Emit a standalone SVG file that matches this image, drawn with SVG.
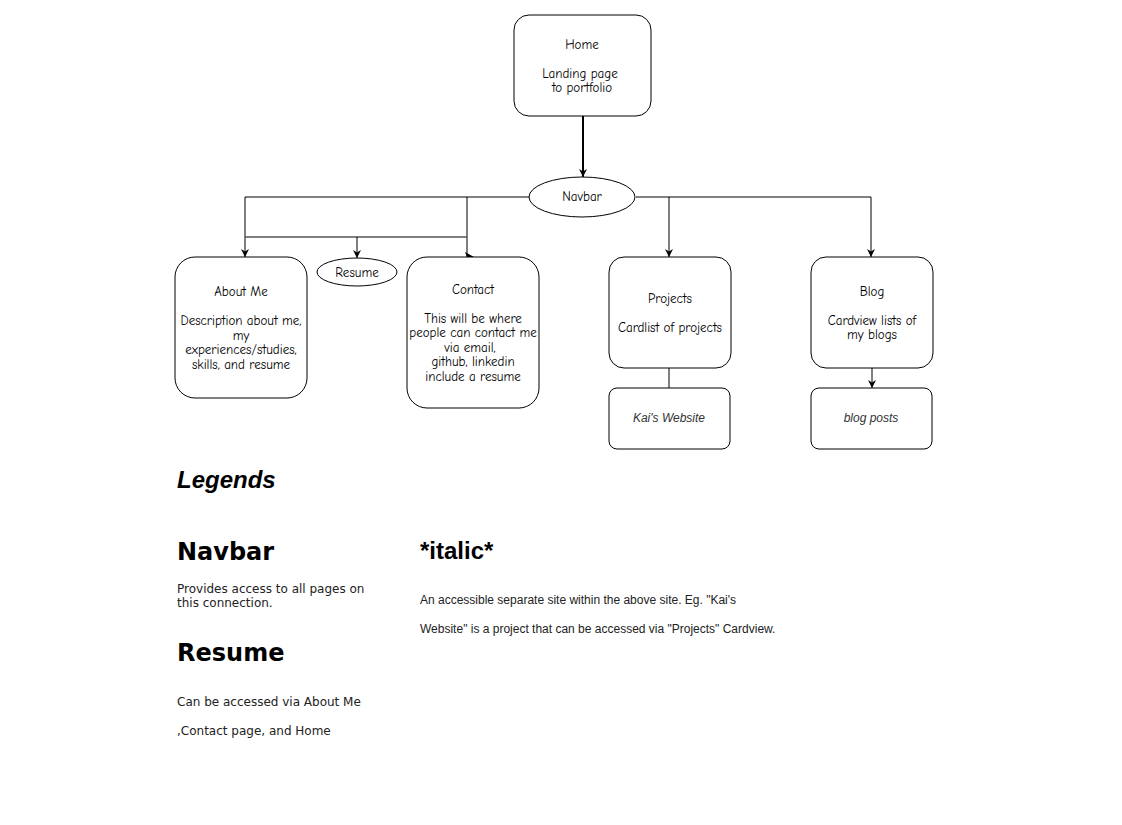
<svg xmlns="http://www.w3.org/2000/svg" width="1122" height="825" viewBox="0 0 1122 825">
<defs>
<style>
.box{fill:#fff;stroke:#000;stroke-width:1}
.nt{font-family:"Comic Sans MS","Comic Neue","Open Sans",sans-serif;font-size:13px;fill:#000;text-anchor:middle}
.it{font-family:"Liberation Sans",Arial,sans-serif;font-size:12px;font-style:italic;fill:#333;text-anchor:middle}
.ln{fill:none;stroke:#000;stroke-width:1}
.h{font-family:"DejaVu Sans",Verdana,sans-serif;font-size:24px;font-weight:bold;fill:#000}
.b{font-family:"DejaVu Sans",Verdana,sans-serif;font-size:12px;fill:#222}
.a{font-family:"Liberation Sans",Arial,sans-serif;font-size:12px;fill:#222}
</style>
<marker id="arr" viewBox="0 0 10 10" refX="10" refY="5" markerWidth="8" markerHeight="8" markerUnits="userSpaceOnUse" orient="auto">
<path d="M0,0 L10,5 L0,10 L3,5 Z" fill="#000"/>
</marker>
</defs>
<rect width="1122" height="825" fill="#fff"/>
<g id="connectors">
<path class="ln" d="M583,116 V177" marker-end="url(#arr)" style="stroke-width:2"/>
<path class="ln" d="M529,197 H245 V257" marker-end="url(#arr)"/>
<path class="ln" d="M467,197 V257"/>
<path d="M465,252 L474,257 L465,262 L467,257 Z" fill="#000"/>
<path class="ln" d="M245,237 H467" style="stroke:#555;stroke-width:1.5"/>
<path class="ln" d="M357,237 V258" marker-end="url(#arr)"/>
<path class="ln" d="M636,197 H871 V257" marker-end="url(#arr)"/>
<path class="ln" d="M669,197 V257" marker-end="url(#arr)"/>
<path class="ln" d="M669,368 V388"/>
<path class="ln" d="M872,368 V388" marker-end="url(#arr)"/>
</g>
<g id="home">
<rect class="box" x="514" y="15" width="137" height="101" rx="15"/>
<text class="nt" x="582" y="49">Home</text>
<text class="nt" x="580" y="78">Landing page</text>
<text class="nt" x="582" y="92">to portfolio</text>
</g>
<g id="navbar">
<ellipse class="box" cx="582" cy="197" rx="53" ry="20"/>
<text class="nt" x="582" y="201">Navbar</text>
</g>
<g id="about">
<rect class="box" x="175" y="257" width="132" height="141" rx="20"/>
<text class="nt" x="241" y="296">About Me</text>
<text class="nt" x="241" y="325">Description about me,</text>
<text class="nt" x="241" y="340">my</text>
<text class="nt" x="241" y="354">experiences/studies,</text>
<text class="nt" x="241" y="369">skills, and resume</text>
</g>
<g id="resume">
<ellipse class="box" cx="357" cy="272" rx="40" ry="14"/>
<text class="nt" x="357" y="277">Resume</text>
</g>
<g id="contact">
<rect class="box" x="407" y="257" width="132" height="151" rx="20"/>
<text class="nt" x="473" y="294">Contact</text>
<text class="nt" x="473" y="323">This will be where</text>
<text class="nt" x="473" y="337">people can contact me</text>
<text class="nt" x="470" y="352">via email,</text>
<text class="nt" x="473" y="366">github, linkedin</text>
<text class="nt" x="473" y="381">include a resume</text>
</g>
<g id="projects">
<rect class="box" x="609" y="257" width="122" height="111" rx="15"/>
<text class="nt" x="670" y="303">Projects</text>
<text class="nt" x="670" y="332">Cardlist of projects</text>
</g>
<g id="blog">
<rect class="box" x="811" y="257" width="122" height="111" rx="15"/>
<text class="nt" x="872" y="296">Blog</text>
<text class="nt" x="872" y="325">Cardview lists of</text>
<text class="nt" x="872" y="339">my blogs</text>
</g>
<g id="kais-website">
<rect class="box" x="609" y="388" width="121" height="61" rx="8"/>
<text class="it" x="669" y="422">Kai's Website</text>
</g>
<g id="blog-posts">
<rect class="box" x="811" y="388" width="121" height="61" rx="8"/>
<text class="it" x="871" y="422">blog posts</text>
</g>
<g id="legend">
<text x="177" y="488" style="font-family:'Liberation Sans',Arial,sans-serif;font-size:24px;font-weight:bold;font-style:italic">Legends</text>
<text class="h" x="177" y="560">Navbar</text>
<text class="b" x="177" y="593">Provides access to all pages on</text>
<text class="b" x="177" y="607">this connection.</text>
<text class="h" x="177" y="661">Resume</text>
<text class="b" x="177" y="706">Can be accessed via About Me</text>
<text class="b" x="177" y="735">,Contact page, and Home</text>
<text x="420" y="559" style="font-family:'Liberation Sans',Arial,sans-serif;font-size:24px;font-weight:bold">*italic*</text>
<text class="a" x="420" y="604">An accessible separate site within the above site. Eg. "Kai's</text>
<text class="a" x="420" y="633">Website" is a project that can be accessed via "Projects" Cardview.</text>
</g>
</svg>
